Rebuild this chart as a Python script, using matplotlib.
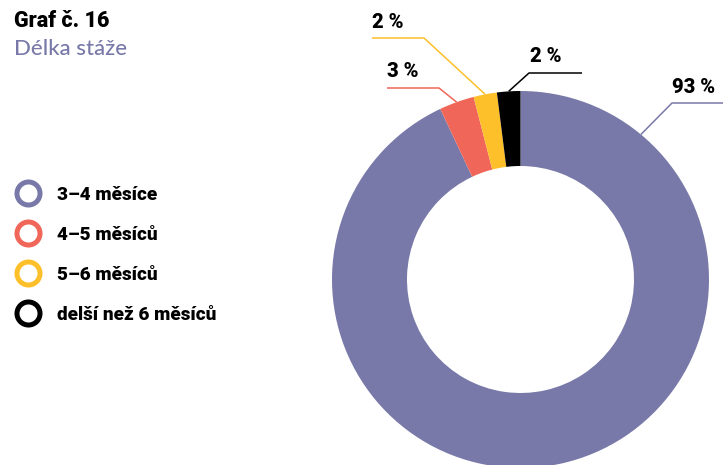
import matplotlib.pyplot as plt
import numpy as np

plt.rcParams["font.family"] = ["Lato", "DejaVu Sans"]
HEAVY = ["Roboto", "DejaVu Sans"]

categories = ["3–4 měsíce", "4–5 měsíců", "5–6 měsíců", "delší než 6 měsíců"]
shares = [93, 3, 2, 2]
value_labels = ["93 %", "3 %", "2 %", "2 %"]
colors = ["#7879a8", "#f0675a", "#fdc02b", "#000000"]

W, H = 723, 465


def py(y):
    # pixel row counted from the top -> data y
    return H - y


fig = plt.figure(figsize=(W / 100, H / 100), dpi=100)
ax = fig.add_axes([0, 0, 1, 1])

cx, cy, r_out, r_in = 520.5, py(279.5), 188.5, 113.5
wedges, _ = ax.pie(shares, colors=colors, startangle=90, counterclock=False,
                   radius=r_out, center=(cx, cy),
                   wedgeprops=dict(width=r_out - r_in, linewidth=0))
ax.set_xlim(0, W)
ax.set_ylim(0, H)
ax.set_aspect("equal")
ax.axis("off")

# leader lines: (touch angle, None = middle of wedge), elbow x, elbow y, end x, text x, text baseline
leaders = [
    (50.3, 672, 103, 723, 672, 93),
    (None, 439, 88, 387, 387, 77),
    (None, 424, 38, 372, 372, 28),
    (None, 529, 73, 582, 530, 62),
]
for w, lab, c, (ang, ex, ey, endx, tx, ty) in zip(wedges, value_labels, colors, leaders):
    if ang is None:
        ang = (w.theta1 + w.theta2) / 2
    a = np.deg2rad(ang)
    sx, sy = cx + r_out * np.cos(a), cy + r_out * np.sin(a)
    ax.plot([sx, ex, endx], [sy, py(ey), py(ey)], color=c, lw=1.1,
            solid_capstyle="butt", clip_on=False)
    ax.text(tx, py(ty), lab, fontsize=14.5, fontweight=900, family=HEAVY,
            ha="left", va="baseline", color="black")

ax.text(14, py(27), "Graf č. 16", fontsize=15.5, fontweight=900, family=HEAVY,
        ha="left", va="baseline")
ax.text(14, py(55), "Délka stáže", fontsize=16, fontweight=500, color="#7879a8",
        ha="left", va="baseline")

# legend with ring markers
for i, (cat, c) in enumerate(zip(categories, colors)):
    yc = 193 + 40 * i
    ax.scatter(28, py(yc), s=275, facecolor="white", edgecolor=c, linewidth=3.6,
               clip_on=False, zorder=3)
    ax.text(57, py(yc + 7), cat, fontsize=13.6, fontweight=900, family=HEAVY,
            ha="left", va="baseline")

fig.savefig("out.png", dpi=100)
